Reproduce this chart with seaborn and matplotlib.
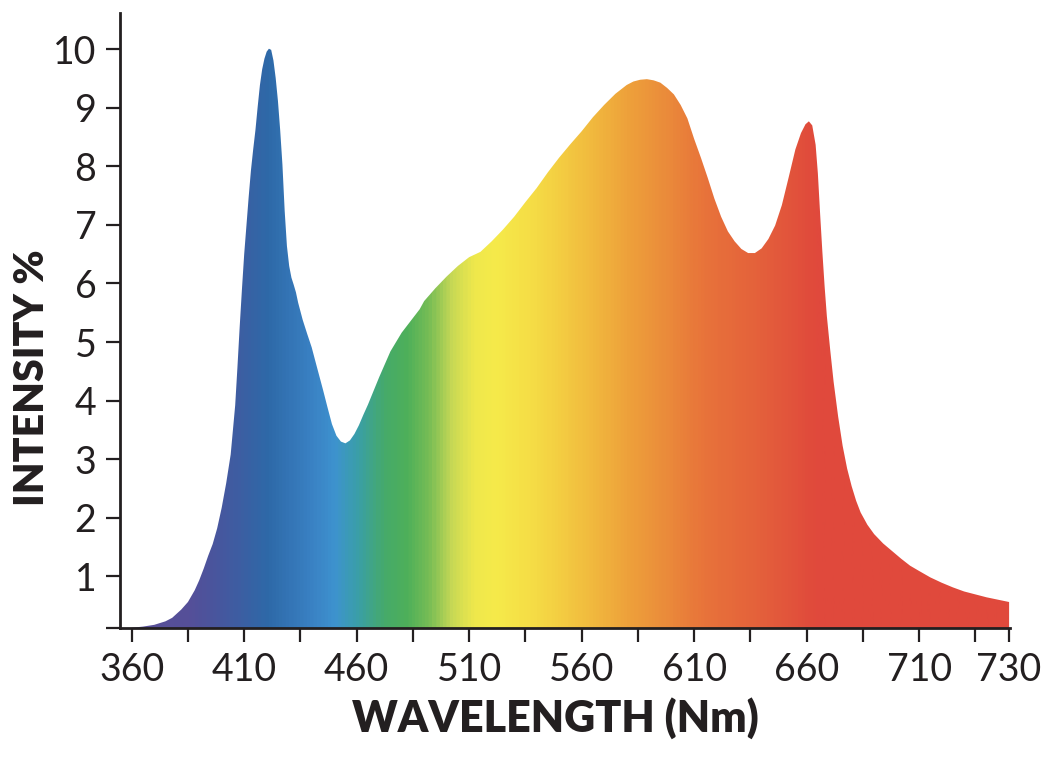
import numpy as np
import pandas as pd
import matplotlib
matplotlib.use("Agg")
import matplotlib.pyplot as plt
from matplotlib.colors import LinearSegmentedColormap
import seaborn as sns

# ---- data ----
wavelength = [360, 365, 370, 375, 378, 382, 385, 388, 390, 392, 394, 396, 398, 400, 402,
              404, 405, 406, 407, 408, 409, 410, 411, 412, 413, 414, 415, 416, 417, 418,
              419, 420, 421, 422, 423, 424, 425, 426, 427, 428, 429, 430, 431, 432, 433,
              434, 436, 438, 440, 442, 445, 447, 449, 451, 453, 455, 457, 459, 461, 463,
              465, 470, 475, 480, 485, 488, 490, 495, 500, 505, 510, 515, 520, 525, 530,
              535, 540, 545, 550, 555, 560, 565, 570, 575, 580, 583, 586, 589, 592, 595,
              598, 601, 604, 607, 610, 613, 616, 619, 622, 625, 628, 631, 634, 637, 640,
              643, 646, 649, 652, 655, 657.5, 659.5, 661, 662.5, 664, 665, 666, 667, 668,
              669, 670.5, 672, 674, 676, 678, 680, 682, 684, 687, 690, 694, 698, 702, 706,
              710, 715, 720, 725, 730, 735, 740, 745, 750]
intensity = [0.12, 0.14, 0.17, 0.23, 0.29, 0.43, 0.56, 0.76, 0.93, 1.13, 1.35, 1.55, 1.82, 2.17, 2.59,
             3.08, 3.50, 3.92, 4.57, 5.26, 5.90, 6.50, 6.99, 7.48, 7.93, 8.29, 8.62, 9.02, 9.39, 9.66,
             9.84, 9.96, 10.01, 9.99, 9.81, 9.51, 9.12, 8.62, 8.03, 7.24, 6.64, 6.30, 6.10, 5.98, 5.85,
             5.67, 5.38, 5.14, 4.91, 4.62, 4.19, 3.89, 3.60, 3.40, 3.30, 3.27, 3.32, 3.43, 3.58, 3.76,
             3.93, 4.40, 4.84, 5.16, 5.41, 5.56, 5.70, 5.92, 6.12, 6.30, 6.45, 6.54, 6.72, 6.92, 7.14,
             7.39, 7.63, 7.90, 8.15, 8.38, 8.60, 8.84, 9.05, 9.24, 9.39, 9.45, 9.48, 9.49, 9.47, 9.43,
             9.34, 9.23, 9.05, 8.82, 8.47, 8.15, 7.81, 7.45, 7.14, 6.89, 6.72, 6.59, 6.52, 6.52, 6.60,
             6.76, 6.99, 7.34, 7.81, 8.29, 8.57, 8.72, 8.77, 8.70, 8.37, 7.88, 7.19, 6.54, 5.95,
             5.44, 4.86, 4.32, 3.73, 3.23, 2.84, 2.54, 2.29, 2.09, 1.88, 1.72, 1.56, 1.43, 1.30, 1.18,
             1.09, 0.98, 0.89, 0.81, 0.74, 0.69, 0.64, 0.60, 0.56]

x_tick_labels = ["360", "", "410", "", "460", "", "510", "", "560", "", "610", "", "660", "",
                 "710", "", "730"]
y_tick_labels = ["", "1", "2", "3", "4", "5", "6", "7", "8", "9", "10"]

df = pd.DataFrame({"wavelength": wavelength, "intensity": intensity})

# ---- style ----
sns.set_style("ticks")
plt.rcParams["font.family"] = ["Lato", "DejaVu Sans"]

fig = plt.figure(figsize=(10.64, 7.64), dpi=100)
ax = fig.add_axes([120 / 1064, 136 / 764, 890 / 1064, 615 / 764])

x_lo, x_hi = 354.8, 750.4
y_lo, y_hi = 0.116, 10.62

sns.lineplot(data=df, x="wavelength", y="intensity", ax=ax, linewidth=0, color="#e04a3c")

# spectrum gradient clipped to the area under the curve
anchors = [(354, "#5a4f98"), (385, "#554f99"), (400, "#45589f"), (420, "#2e69a8"),
           (440, "#3a82c4"), (450, "#3e93cf"), (460, "#3a9fa8"), (472, "#46aa6a"),
           (482, "#4eb05a"), (492, "#77bd55"), (502, "#c6d855"), (512, "#efe84c"),
           (522, "#f6ea4a"), (540, "#f5db45"), (560, "#f2c03f"), (580, "#eea23b"),
           (600, "#ea883a"), (615, "#e8733a"), (640, "#e4603b"), (665, "#e0493c"),
           (751, "#e0493d")]
lo, hi = anchors[0][0], anchors[-1][0]
cmap = LinearSegmentedColormap.from_list(
    "spec", [((w - lo) / (hi - lo), c) for w, c in anchors])
grad_x = np.linspace(lo, hi, 800)
img = ax.imshow(grad_x[np.newaxis, :], cmap=cmap, aspect="auto",
                extent=(lo, hi, y_lo - 1, y_hi), origin="lower", zorder=1,
                vmin=lo, vmax=hi)
poly = ax.fill_between(df["wavelength"], -1, df["intensity"], facecolor="none",
                       edgecolor="none", zorder=1)
clip_path = poly.get_paths()[0]
img.set_clip_path(clip_path, transform=ax.transData)

ax.set_xlim(x_lo, x_hi)
ax.set_ylim(y_lo, y_hi)

x_ticks = list(range(360, 736, 25)) + [750]
ax.set_xticks(x_ticks)
ax.set_xticklabels(x_tick_labels)
ax.set_yticks([y_lo] + list(range(1, 11)))
ax.set_yticklabels(y_tick_labels)

sns.despine(ax=ax)
for s in ["left", "bottom"]:
    ax.spines[s].set_linewidth(2.0)
    ax.spines[s].set_color("#231f20")
    ax.spines[s].set_zorder(3)

ax.tick_params(axis="both", which="major", labelsize=27, length=10, width=1.6,
               color="#231f20", labelcolor="#231f20", pad=7)

ax.set_xlabel("WAVELENGTH (Nm)", fontsize=31, fontweight="heavy", color="#231f20")
ax.set_ylabel("INTENSITY %", fontsize=29.5, fontweight="heavy", color="#231f20")
ax.xaxis.set_label_coords(0.489, -0.146)
ax.yaxis.set_label_coords(-0.099, 0.407)
ax.xaxis.label.set_verticalalignment("center")
ax.yaxis.label.set_verticalalignment("center")

fig.savefig("out.png", dpi=100)
